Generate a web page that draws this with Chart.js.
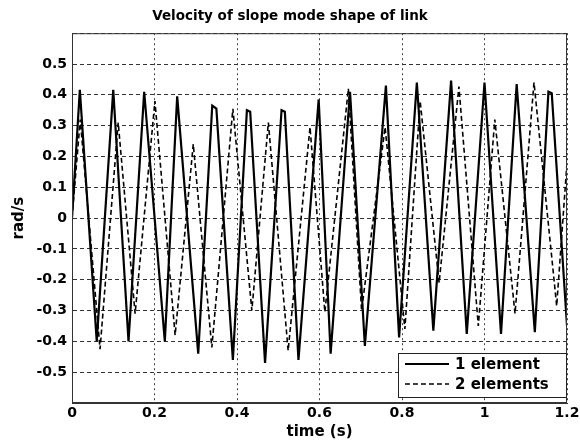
<!DOCTYPE html>
<html>
<head>
<meta charset="utf-8">
<script src="https://cdn.jsdelivr.net/npm/chart.js@4/dist/chart.umd.min.js"></script>
<style>
  html, body { margin: 0; padding: 0; background: #fff; }
  #wrap { width: 580px; height: 443px; }
</style>
</head>
<body>
<div id="wrap"><canvas id="c" width="580" height="443"></canvas></div>
<script>
const titleText = "Velocity of slope mode shape of link";
const xTitle = "time (s)";
const yTitle = "rad/s";
const seriesNames = ["1 element", "2 elements"];

// 1 element (solid) : time (s) and velocity (rad/s) at turning points
const solidT = [0, 0.019, 0.060, 0.100, 0.137, 0.175, 0.225, 0.255, 0.306, 0.340, 0.350, 0.390, 0.424, 0.432, 0.468, 0.508, 0.516, 0.549, 0.598, 0.627, 0.674, 0.710, 0.761, 0.793, 0.836, 0.876, 0.919, 0.957, 1.000, 1.040, 1.078, 1.122, 1.155, 1.163, 1.200];
const solidV = [0, 0.416, -0.40, 0.416, -0.40, 0.41, -0.40, 0.395, -0.44, 0.365, 0.355, -0.46, 0.35, 0.345, -0.47, 0.35, 0.345, -0.46, 0.385, -0.44, 0.41, -0.415, 0.43, -0.387, 0.44, -0.365, 0.446, -0.376, 0.44, -0.376, 0.435, -0.37, 0.41, 0.405, -0.35];

// 2 elements (dashed)
const dashedT = [0, 0.020, 0.068, 0.112, 0.153, 0.201, 0.250, 0.294, 0.339, 0.390, 0.436, 0.476, 0.524, 0.577, 0.613, 0.670, 0.702, 0.759, 0.807, 0.844, 0.890, 0.938, 0.985, 1.025, 1.074, 1.120, 1.175, 1.200];
const dashedV = [0, 0.32, -0.425, 0.31, -0.31, 0.38, -0.38, 0.24, -0.42, 0.355, -0.30, 0.31, -0.43, 0.295, -0.305, 0.42, -0.30, 0.295, -0.36, 0.38, -0.21, 0.427, -0.35, 0.32, -0.31, 0.44, -0.285, 0.18];

const xMin = 0, xMax = 1.2, xStep = 0.2;
const yMin = -0.6, yMax = 0.6, yStep = 0.1;
const yLabelLimit = 0.5;

const toPts = (t, v) => t.map((x, i) => ({ x: x, y: v[i] }));
const FONT = "'DejaVu Sans', 'Liberation Sans', Arial, sans-serif";

const framePlugin = {
  id: 'frame',
  afterDraw(chart) {
    const { ctx, chartArea: a } = chart;
    ctx.save();
    ctx.strokeStyle = '#333';
    ctx.lineWidth = 1;
    ctx.strokeRect(a.left + 0.5, a.top + 0.5, a.right - a.left - 1, a.bottom - a.top - 1);
    // legend box inside bottom-right
    const w = 168, h = 44;
    const x = a.right - 1 - w, y = a.bottom - 6 - h;
    ctx.fillStyle = '#fff';
    ctx.fillRect(x, y, w, h);
    ctx.strokeStyle = '#222';
    ctx.strokeRect(x + 0.5, y + 0.5, w, h);
    chart.data.datasets.forEach((ds, i) => {
      const ly = y + 11 + i * 20;
      ctx.beginPath();
      ctx.setLineDash(ds.borderDash || []);
      ctx.lineWidth = ds.borderWidth;
      ctx.strokeStyle = '#000';
      ctx.moveTo(x + 7, ly);
      ctx.lineTo(x + 51, ly);
      ctx.stroke();
      ctx.setLineDash([]);
      ctx.fillStyle = '#000';
      ctx.font = 'bold 15px ' + FONT;
      ctx.textBaseline = 'middle';
      ctx.textAlign = 'left';
      ctx.fillText(ds.label, x + 57, ly + 1);
    });
    ctx.restore();
  }
};

const fmt = v => String(Number(v.toFixed(1)));

new Chart(document.getElementById('c'), {
  type: 'line',
  data: {
    datasets: [
      { label: seriesNames[0], data: toPts(solidT, solidV), borderColor: '#000', borderWidth: 2.2, pointRadius: 0, tension: 0, fill: false },
      { label: seriesNames[1], data: toPts(dashedT, dashedV), borderColor: '#000', borderWidth: 1.6, borderDash: [5, 3], pointRadius: 0, tension: 0, fill: false }
    ]
  },
  options: {
    responsive: false,
    animation: false,
    devicePixelRatio: 1,
    layout: { padding: { left: 0, right: 0, top: 0, bottom: 0 } },
    plugins: {
      legend: { display: false },
      tooltip: { enabled: false },
      title: {
        display: true,
        text: titleText,
        color: '#000',
        font: { family: FONT, size: 13.5, weight: 'bold' },
        padding: { top: 8, bottom: 9 }
      }
    },
    scales: {
      x: {
        type: 'linear',
        min: xMin, max: xMax,
        afterFit: s => { s.height = 40; s.paddingRight = 13; },
        ticks: { stepSize: xStep, color: '#000', font: { family: FONT, size: 14, weight: 'bold' }, padding: 2, maxRotation: 0, callback: v => fmt(v) },
        grid: { color: '#444', lineWidth: 1, drawTicks: false },
        border: { display: true, color: '#333', dash: [2, 3] },
        title: { display: true, text: xTitle, color: '#000', font: { family: FONT, size: 15, weight: 'bold' }, padding: { top: 0, bottom: 2 } }
      },
      y: {
        type: 'linear',
        min: yMin, max: yMax,
        afterFit: s => { s.width = 72; },
        ticks: { stepSize: yStep, color: '#000', font: { family: FONT, size: 14, weight: 'bold' }, padding: 5,
          callback: v => (Math.abs(v) > yLabelLimit + 0.01 ? '' : fmt(v)) },
        grid: { color: '#333', lineWidth: 1, drawTicks: false },
        border: { display: true, color: '#333', dash: [4, 3] },
        title: { display: true, text: yTitle, color: '#000', font: { family: FONT, size: 15, weight: 'bold' }, padding: { top: 10, bottom: 0 } }
      }
    }
  },
  plugins: [framePlugin]
});
</script>
</body>
</html>
